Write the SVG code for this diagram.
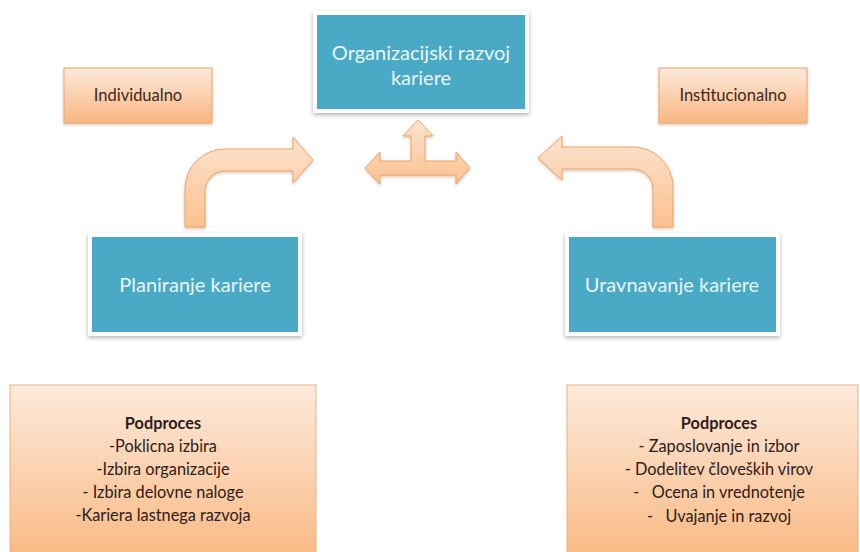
<svg xmlns="http://www.w3.org/2000/svg" width="860" height="552" viewBox="0 0 860 552">
<defs>
<linearGradient id="gOrange" x1="0" y1="0" x2="0" y2="1">
<stop offset="0" stop-color="#fde9da"/>
<stop offset="1" stop-color="#f9b682"/>
</linearGradient>
<linearGradient id="gBig" x1="0" y1="0" x2="0" y2="1">
<stop offset="0" stop-color="#fdeadb"/>
<stop offset="1" stop-color="#f9b983"/>
</linearGradient>
<linearGradient id="gArrow" x1="0" y1="0" x2="0" y2="1">
<stop offset="0" stop-color="#fde3cd"/>
<stop offset="1" stop-color="#fbc190"/>
</linearGradient>
<filter id="sh" x="-10%" y="-10%" width="120%" height="130%">
<feDropShadow dx="0" dy="2" stdDeviation="2" flood-color="#000" flood-opacity="0.3"/>
</filter>
<filter id="shs" x="-10%" y="-10%" width="120%" height="130%">
<feDropShadow dx="0" dy="1.5" stdDeviation="1.5" flood-color="#8a5a30" flood-opacity="0.35"/>
</filter>
</defs>
<style>
.ob{fill:url(#gOrange);stroke:#e9a66e;stroke-width:1;filter:url(#shs)}
.bb{fill:url(#gBig);stroke:#eab184;stroke-width:1}
.tw{fill:#ffffff;filter:url(#sh)}
.tl{fill:#4aa9c5}
.ar{fill:url(#gArrow);stroke:#eda46a;stroke-width:1;filter:url(#shs)}
.tt{font-family:Lato,'Open Sans',sans-serif;font-size:20px;fill:#e8f6fa;text-anchor:middle}
.ot{font-family:Lato,'Open Sans',sans-serif;font-size:16.5px;fill:#3a2a1e;text-anchor:middle}
.bt{font-family:Lato,'Open Sans',sans-serif;font-size:16.3px;fill:#2e2018;text-anchor:middle}
.bh{font-weight:bold}
</style>
<rect width="860" height="552" fill="#ffffff"/>
<g id="connectors">
<path class="ar" d="M185,227 L185,189 A40,40 0 0 1 225,149 L293,149 L293,137 L313,160 L293,183 L293,171 L225,171 A20,20 0 0 0 205,191 L205,227 Z"/>
<path class="ar" d="M673,227 L673,187 A40,40 0 0 0 633,147 L562,147 L562,136 L538,158 L562,180 L562,169 L633,169 A20,20 0 0 1 653,189 L653,227 Z"/>
<path class="ar" d="M365,168 L380,152 L380,161 L411,161 L411,136 L403,136 L418,120 L433,136 L425,136 L425,161 L456,161 L456,152 L470,168 L456,184 L456,175 L380,175 L380,184 Z"/>
</g>
<g id="individualno">
<rect class="ob" x="64" y="68" width="148" height="55"/>
<text class="ot" x="138" y="101">Individualno</text>
</g>
<g id="institucionalno">
<rect class="ob" x="659" y="68" width="148" height="55"/>
<text class="ot" x="733" y="101">Institucionalno</text>
</g>
<g id="organizacijski">
<rect class="tw" x="313" y="11" width="216" height="102"/>
<rect class="tl" x="317" y="15" width="208" height="94"/>
<text class="tt" x="421" y="60">Organizacijski razvoj</text>
<text class="tt" x="421" y="85">kariere</text>
</g>
<g id="planiranje">
<rect class="tw" x="88" y="233" width="214" height="103"/>
<rect class="tl" x="92" y="237" width="206" height="95"/>
<text class="tt" x="195" y="292">Planiranje kariere</text>
</g>
<g id="uravnavanje">
<rect class="tw" x="565" y="233" width="215" height="103"/>
<rect class="tl" x="569" y="237" width="207" height="95"/>
<text class="tt" x="672" y="292">Uravnavanje kariere</text>
</g>
<g id="podproces-levo">
<rect class="bb" x="10" y="385" width="306" height="175"/>
<text class="bt bh" x="163" y="429">Podproces</text>
<text class="bt" x="163" y="452">-Poklicna izbira</text>
<text class="bt" x="163" y="475">-Izbira organizacije</text>
<text class="bt" x="163" y="498">- Izbira delovne naloge</text>
<text class="bt" x="163" y="521">-Kariera lastnega razvoja</text>
</g>
<g id="podproces-desno">
<rect class="bb" x="567" y="385" width="291" height="175"/>
<text class="bt bh" x="719" y="429">Podproces</text>
<text class="bt" x="719" y="452">- Zaposlovanje in izbor</text>
<text class="bt" x="719" y="475">- Dodelitev človeških virov</text>
<text class="bt" x="719" y="498" xml:space="preserve">-   Ocena in vrednotenje</text>
<text class="bt" x="719" y="522" xml:space="preserve">-   Uvajanje in razvoj</text>
</g>
</svg>
